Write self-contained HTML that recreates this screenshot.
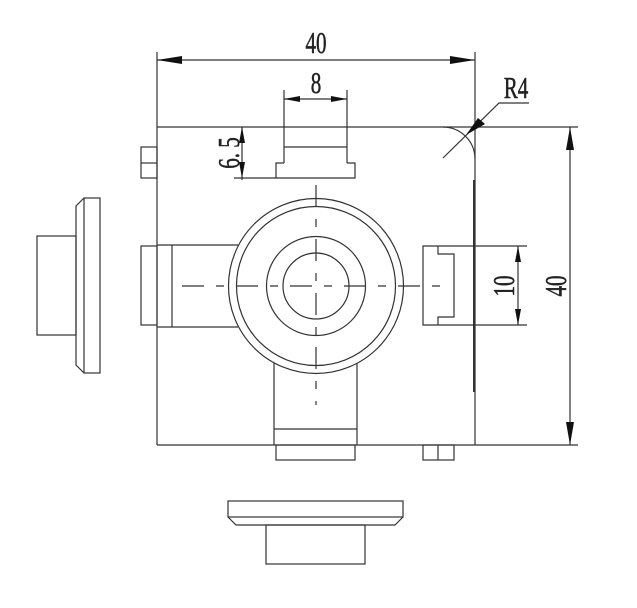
<!DOCTYPE html>
<html><head><meta charset="utf-8"><style>html,body{margin:0;padding:0;background:#fff}svg{display:block}</style></head>
<body>
<svg width="637" height="608" viewBox="0 0 637 608" xmlns="http://www.w3.org/2000/svg">
<g fill="none" stroke="#333" stroke-width="1.2">
<line x1="157" y1="127" x2="475" y2="127"/>
<line x1="157" y1="445" x2="475" y2="445"/>
<line x1="157" y1="52" x2="157" y2="445"/>
<line x1="475" y1="52" x2="475" y2="445"/>
<line x1="474" y1="180" x2="474" y2="392" stroke-width="2"/>
<line x1="157" y1="60" x2="475" y2="60"/>
<line x1="284" y1="90" x2="284" y2="163"/>
<line x1="347" y1="90" x2="347" y2="163"/>
<line x1="284" y1="99" x2="347" y2="99"/>
<polyline points="284,163 276,163 276,178 355,178 355,163 347,163"/>
<line x1="284" y1="147" x2="347" y2="147"/>
<line x1="242" y1="127" x2="242" y2="180"/>
<line x1="234" y1="178" x2="276" y2="178"/>
<rect x="141" y="147" width="16" height="31"/>
<line x1="141" y1="163" x2="157" y2="163"/>
<path d="M443,127 A32,32 0 0 1 475,159"/>
<polyline points="443,158 499,103 529,103"/>
<polyline points="475,246 423,246 423,325 475,325"/>
<polyline points="438,246 438,254 454,254 454,317 438,317 438,325"/>
<line x1="475" y1="246" x2="527" y2="246"/>
<line x1="475" y1="325" x2="527" y2="325"/>
<line x1="518" y1="246" x2="518" y2="325"/>
<line x1="475" y1="127" x2="578" y2="127"/>
<line x1="475" y1="445" x2="578" y2="445"/>
<line x1="570" y1="127" x2="570" y2="445"/>
<rect x="423" y="445" width="31" height="15"/>
<line x1="438" y1="445" x2="438" y2="460"/>
<rect x="141" y="246" width="16" height="79"/>
<line x1="157" y1="245" x2="238" y2="245"/>
<line x1="157" y1="327" x2="238" y2="327"/>
<line x1="172" y1="245" x2="172" y2="327"/>
<line x1="274" y1="362" x2="274" y2="445"/>
<line x1="357" y1="362" x2="357" y2="445"/>
<line x1="274" y1="429" x2="357" y2="429"/>
<rect x="276" y="445" width="79" height="15"/>
<circle cx="316" cy="286" r="87.5" fill="#fff"/>
<circle cx="316" cy="286" r="79.5"/>
<circle cx="316" cy="286" r="49.5"/>
<circle cx="316" cy="286" r="33"/>
<line x1="182" y1="286" x2="445" y2="286" stroke-dasharray="22,12,8,12"/>
<line x1="316" y1="185" x2="316" y2="405" stroke-dasharray="22,12,8,12"/>
<rect x="37" y="236" width="39" height="99"/>
<rect x="84" y="198" width="16" height="175"/>
<polyline points="84,198 76,206 76,365 84,373"/>
<rect x="228" y="501" width="175" height="16"/>
<polyline points="228,517 236,525 395,525 403,517"/>
<rect x="266" y="525" width="99" height="39"/>
</g>
<g fill="#111" stroke="none">
<polygon points="157,60 182,56 182,64"/>
<polygon points="475,60 450,56 450,64"/>
<polygon points="284,99 300,96 300,102"/>
<polygon points="347,99 331,96 331,102"/>
<polygon points="242,127 239,143 245,143"/>
<polygon points="242,178 239,162 245,162"/>
<polygon points="466,135 478,118 485,124"/>
<polygon points="518,246 515,262 521,262"/>
<polygon points="518,325 515,309 521,309"/>
<polygon points="570,127 566,150 574,150"/>
<polygon points="570,445 566,422 574,422"/>
</g>
<g font-family="Liberation Serif, serif" fill="#222" font-size="31" stroke="#222" stroke-width="0.5">
<text transform="translate(316,53) scale(0.68,1)" text-anchor="middle">40</text>
<text transform="translate(316,93) scale(0.68,1)" text-anchor="middle">8</text>
<text transform="translate(516,98) scale(0.68,1)" text-anchor="middle">R4</text>
<text transform="translate(239,153) rotate(-90) scale(0.68,1)" text-anchor="middle">6. 5</text>
<text transform="translate(514,286) rotate(-90) scale(0.68,1)" text-anchor="middle">10</text>
<text transform="translate(566,286) rotate(-90) scale(0.68,1)" text-anchor="middle">40</text>
</g>
</svg>
</body></html>
